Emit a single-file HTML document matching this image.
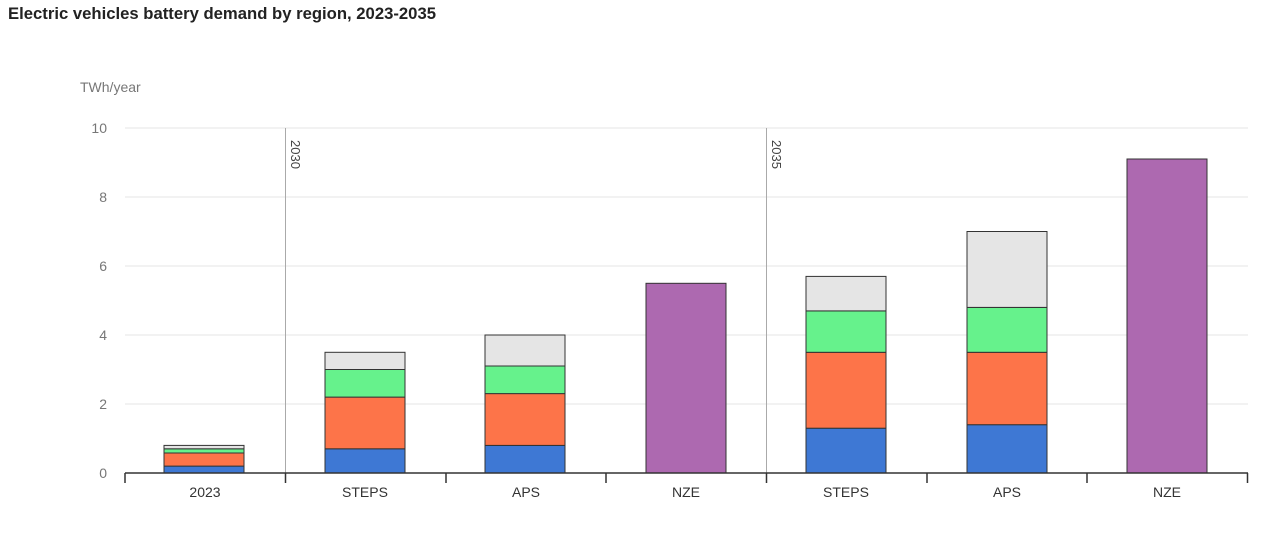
<!DOCTYPE html>
<html><head><meta charset="utf-8"><style>
body{margin:0;background:#fff;width:1280px;height:554px;overflow:hidden;font-family:"Liberation Sans",sans-serif}
</style></head><body>
<svg width="1280" height="554" xmlns="http://www.w3.org/2000/svg" font-family="Liberation Sans, sans-serif">
<text x="8" y="19" font-size="16.5" font-weight="bold" fill="#222" textLength="428" lengthAdjust="spacingAndGlyphs">Electric vehicles battery demand by region, 2023-2035</text>
<text x="80" y="92" font-size="14" fill="#777">TWh/year</text>
<g stroke="#e6e6e6" stroke-width="1">
<line x1="125" x2="1248" y1="128" y2="128"/><line x1="125" x2="1248" y1="197" y2="197"/>
<line x1="125" x2="1248" y1="266" y2="266"/><line x1="125" x2="1248" y1="335" y2="335"/>
<line x1="125" x2="1248" y1="404" y2="404"/>
</g>
<g font-size="14" fill="#777" text-anchor="end">
<text x="107" y="133">10</text><text x="107" y="202">8</text><text x="107" y="271">6</text>
<text x="107" y="340">4</text><text x="107" y="409">2</text><text x="107" y="478">0</text>
</g>
<line x1="285.5" x2="285.5" y1="128" y2="473" stroke="#aaa"/>
<line x1="766.5" x2="766.5" y1="128" y2="473" stroke="#aaa"/>
<text transform="translate(291,140) rotate(90)" font-size="13" fill="#444">2030</text>
<text transform="translate(772,140) rotate(90)" font-size="13" fill="#444">2035</text>
<g stroke="#333" stroke-width="1">
<rect x="164" y="466.1" width="80" height="6.9" fill="#3e78d4"/>
<rect x="164" y="453" width="80" height="13.1" fill="#fd7449"/>
<rect x="164" y="448.8" width="80" height="4.2" fill="#66f28c"/>
<rect x="164" y="445.4" width="80" height="3.4" fill="#e5e5e5"/>
<rect x="325" y="448.8" width="80" height="24.2" fill="#3e78d4"/>
<rect x="325" y="397.1" width="80" height="51.7" fill="#fd7449"/>
<rect x="325" y="369.5" width="80" height="27.6" fill="#66f28c"/>
<rect x="325" y="352.3" width="80" height="17.2" fill="#e5e5e5"/>
<rect x="485" y="445.4" width="80" height="27.6" fill="#3e78d4"/>
<rect x="485" y="393.6" width="80" height="51.8" fill="#fd7449"/>
<rect x="485" y="366" width="80" height="27.6" fill="#66f28c"/>
<rect x="485" y="335" width="80" height="31" fill="#e5e5e5"/>
<rect x="646" y="283.3" width="80" height="189.7" fill="#ad69b0"/>
<rect x="806" y="428.2" width="80" height="44.8" fill="#3e78d4"/>
<rect x="806" y="352.3" width="80" height="75.9" fill="#fd7449"/>
<rect x="806" y="310.9" width="80" height="41.4" fill="#66f28c"/>
<rect x="806" y="276.4" width="80" height="34.5" fill="#e5e5e5"/>
<rect x="967" y="424.7" width="80" height="48.3" fill="#3e78d4"/>
<rect x="967" y="352.3" width="80" height="72.4" fill="#fd7449"/>
<rect x="967" y="307.4" width="80" height="44.9" fill="#66f28c"/>
<rect x="967" y="231.5" width="80" height="75.9" fill="#e5e5e5"/>
<rect x="1127" y="159" width="80" height="314" fill="#ad69b0"/>
</g>
<g stroke="#333" stroke-width="1.5">
<line x1="125" x2="1248" y1="473" y2="473"/>
<line x1="125" x2="125" y1="473" y2="483"/><line x1="285.5" x2="285.5" y1="473" y2="483"/>
<line x1="446" x2="446" y1="473" y2="483"/><line x1="606" x2="606" y1="473" y2="483"/>
<line x1="766.5" x2="766.5" y1="473" y2="483"/><line x1="927" x2="927" y1="473" y2="483"/>
<line x1="1087" x2="1087" y1="473" y2="483"/><line x1="1247.5" x2="1247.5" y1="473" y2="483"/>
</g>
<g font-size="14" fill="#333" text-anchor="middle">
<text x="205" y="497">2023</text><text x="365" y="497">STEPS</text><text x="526" y="497">APS</text>
<text x="686" y="497">NZE</text><text x="846" y="497">STEPS</text><text x="1007" y="497">APS</text>
<text x="1167" y="497">NZE</text>
</g>
</svg>
</body></html>
